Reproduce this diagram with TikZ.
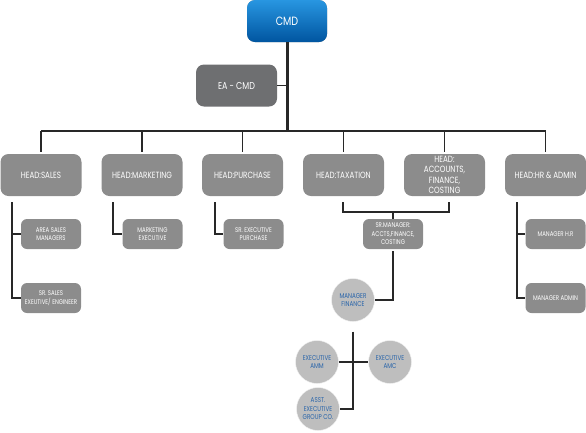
\documentclass[tikz,border=0pt]{standalone}
\usepackage{fontspec}
\setmainfont{Poppins}[FakeStretch=0.8]
\usepackage{tikz}
\definecolor{boxgray}{RGB}{140,140,140}
\definecolor{eagray}{RGB}{110,111,113}
\definecolor{circgray}{RGB}{190,190,190}
\definecolor{circblue}{RGB}{40,100,170}
\definecolor{linegray}{RGB}{40,40,40}
\definecolor{cmdtop}{RGB}{40,150,225}
\definecolor{cmdbot}{RGB}{0,85,160}

\begin{document}
\begin{tikzpicture}[x=1pt,y=-1pt,
	headbox/.style={rectangle, rounded corners=8pt, fill=boxgray, text=white, align=center,
		minimum width=81pt, minimum height=42pt, inner sep=1pt, font=\fontsize{9}{10.5}\selectfont},
	subbox/.style={rectangle, rounded corners=6pt, fill=boxgray, text=white, align=center,
		minimum width=60pt, minimum height=30pt, inner sep=1pt, font=\fontsize{6.8}{8.5}\selectfont},
	circbox/.style={circle, fill=circgray, draw=white!80!circgray, text=circblue, align=center,
		minimum size=43pt, inner sep=0pt, font=\fontsize{7}{8.5}\selectfont},
	link/.style={draw=linegray, line width=1.4pt}]
	\useasboundingbox (0,0) rectangle (586,432);
	% top
	\node[headbox, top color=cmdtop, bottom color=cmdbot, minimum width=80pt, font=\fontsize{12}{14}\selectfont] (cmd) at (287,21) {CMD};
	\node[headbox, fill=eagray, font=\fontsize{10}{12}\selectfont] (ea) at (236.5,85.5) {EA - CMD};
	\coordinate (bar) at (287,131);
	% heads
	\node[headbox] (sales) at (41,175) {HEAD:SALES};
	\node[headbox] (mkt) at (142,175) {HEAD:MARKETING};
	\node[headbox] (pur) at (242.5,175) {HEAD:PURCHASE};
	\node[headbox] (tax) at (343.5,175) {HEAD:TAXATION};
	\node[headbox] (acc) at (444.5,175) {HEAD:\\ACCOUNTS,\\FINANCE,\\COSTING};
	\node[headbox] (hr) at (545.5,175) {HEAD:HR \& ADMIN};
	% sub boxes
	\node[subbox] (asm) at (51,234) {AREA SALES\\MANAGERS};
	\node[subbox] (sse) at (51,298) {SR. SALES\\EXEUTIVE/ ENGINEER};
	\node[subbox] (mex) at (152.5,234) {MARKETING\\EXECUTIVE};
	\node[subbox] (spu) at (253.5,234) {SR. EXECUTIVE\\PURCHASE};
	\node[subbox] (srm) at (393,234) {SR.MANAGER:\\ACCTS,FINANCE,\\COSTING};
	\node[subbox] (mhr) at (555.5,234) {MANAGER H.R};
	\node[subbox] (mad) at (555.5,298) {MANAGER ADMIN};
	% circles
	\node[circbox] (mfin) at (353,300) {MANAGER\\FINANCE};
	\node[circbox] (amm) at (317,362) {EXECUTIVE\\AMM};
	\node[circbox] (amc) at (390,362) {EXECUTIVE\\AMC};
	\node[circbox] (asst) at (318,409) {ASST.\\EXECUTIVE\\GROUP CO.};
	% connectors
	\draw[link, line width=3pt] (cmd.south) -- (bar);
	\draw[link] (ea.east) -- (ea.east -| bar);
	\draw[link] (sales.north |- bar) -- (hr.north |- bar);
	\foreach \n in {sales,mkt,pur,tax,acc,hr}
		\draw[link, shorten <=2pt] (\n.north) -- (\n.north |- bar);
	\coordinate (s1) at (12,202);
	\coordinate (m1) at (113,202);
	\coordinate (p1) at (215,202);
	\coordinate (h1) at (517,202);
	\coordinate (t1) at (343,202);
	\coordinate (a1) at (449,202);
	\draw[link] (s1) |- (asm.west);
	\draw[link] (s1) |- (sse.west);
	\draw[link] (m1) |- (mex.west);
	\draw[link] (p1) |- (spu.west);
	\draw[link] (h1) |- (mhr.west);
	\draw[link] (h1) |- (mad.west);
	\draw[link] (t1) -- ++(0,10) -| (a1);
	\draw[link] (srm.north) -- (srm.north |- 0,212);
	\draw[link, shorten <=2pt] (srm.south) |- (mfin.east);
	\draw[link, shorten <=10pt] (mfin.south) |- (asst.east);
	\draw[link] (amm.east) -- (amc.west);
\end{tikzpicture}
\end{document}
